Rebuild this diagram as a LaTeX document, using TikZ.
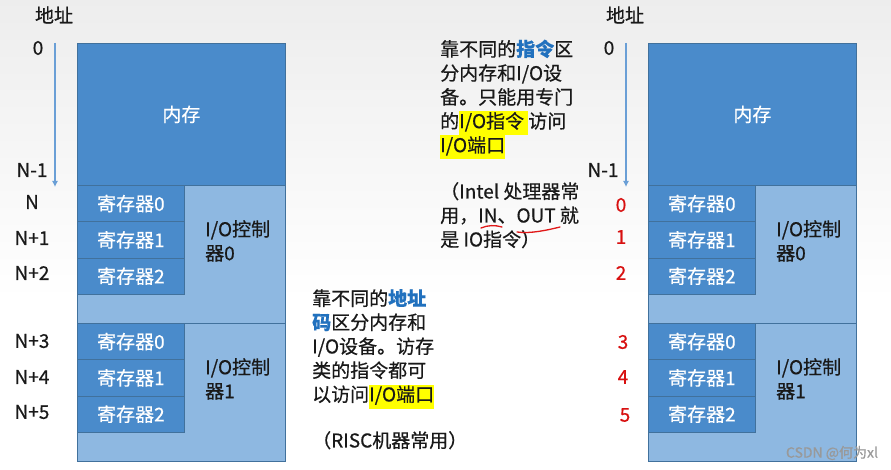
\documentclass[tikz,border=0pt]{standalone}
\usepackage{fontspec}
\setmainfont{Noto Sans CJK SC}[FakeBold=0.5]
\usetikzlibrary{arrows.meta}

\definecolor{memblue}{HTML}{4A8BCB}
\definecolor{ctrlblue}{HTML}{8EB8E1}
\definecolor{boxline}{HTML}{41719C}
\definecolor{arrowblue}{HTML}{6A9FD6}
\definecolor{keyblue}{HTML}{2171BE}
\definecolor{hlyellow}{HTML}{FFFF00}
\definecolor{numred}{HTML}{D81010}
\definecolor{inkred}{HTML}{E01818}

\newcommand{\hilite}[1]{{\setlength{\fboxsep}{0pt}\colorbox{hlyellow}{\strut#1}}}
\newcommand{\keyword}[1]{{\bfseries\color{keyblue}#1}}

\begin{document}
\begin{tikzpicture}[x=1pt, y=-1pt,
    every node/.style={font=\fontsize{19}{24}\selectfont, inner sep=0pt, text=black!90},
    mem/.style={draw=boxline, line width=0.8pt, fill=memblue, text=white, anchor=north west,
        minimum width=208pt, minimum height=142pt},
    ctrl/.style={draw=boxline, line width=0.8pt, fill=ctrlblue, anchor=north west,
        minimum width=208pt, minimum height=138pt},
    reg/.style={draw=boxline, line width=0.8pt, fill=memblue, text=white, anchor=north west,
        minimum width=107pt, minimum height=36.3pt},
    ctrltext/.style={anchor=west, align=left},
    note/.style={anchor=north west, align=left},
    redlab/.style={text=numred},
    addrline/.style={draw=arrowblue, line width=1.1pt, -{Latex[length=6pt, width=6pt]}},
    ink/.style={draw=inkred, line width=1.3pt, line cap=round},
    wmtext/.style={font=\fontsize{14}{16}\selectfont, text=black!40}]
    \shade[top color=black!7, bottom color=white] (0,0) rectangle (891,300);
    \fill[white] (0,300) rectangle (891,470);
    \useasboundingbox (0,0) rectangle (891,470);

    % the two address maps
    \foreach \ox/\s in {0/l, 571/r}{
        \begin{scope}[xshift=\ox pt]
            \node[mem] (mem\s) at (77,43) {内存};
            \foreach \c/\y in {0/185, 1/323}{
                \node[ctrl] (ctrl\c\s) at (77,\y) {};
                \node[ctrltext] (ctrltext\c\s) at (205,\y+56) {I/O控制\\器\c};
                \foreach \r in {0,1,2}
                    \node[reg] (reg\c\r\s) at (77,\y+36.3*\r) {寄存器\r};
            }
            \node (addr\s) at (54,15) {地址};
            \node (zero\s) at (38,48) {0};
            \node (nmone\s) at (32,170) {N-1};
            \coordinate (top\s) at (55,43);
            \coordinate (bot\s) at (55,187);
            \draw[addrline] (top\s) -- (bot\s);
        \end{scope}
    }

    \foreach \lab/\y [count=\k] in {N/202, N+1/238, N+2/273, N+3/341, N+4/377, N+5/412}
        \node (al\k) at (32,\y) {\lab};
    \foreach \x/\y [count=\k from 0] in {621/205, 621/237, 621/273, 623/342, 623/377, 625/415}
        \node[redlab] (ar\k) at (\x,\y) {\k};

    % notes
    \node[note] (iomap) at (440,39.5) {靠不同的\keyword{指令}区\\分内存和I/O设\\备。只能用专门\\的\hilite{I/O指令\ }访问\\\hilite{I/O端口}};
    \node[note] (intel) at (440,182) {（Intel 处理器常\\用，IN、OUT 就\\是 IO指令）};
    \node[note] (memmap) at (312,289) {靠不同的\keyword{地址}\\\keyword{码}区分内存和\\I/O设备。访存\\类的指令都可\\以访问\hilite{I/O端口}};
    \node[note] (risc) at (312,431) {（RISC机器常用）};

    \draw[ink] (481,228) .. controls (488,225) and (495,225) .. (502,227);
    \draw[ink] (517,232) .. controls (530,234) and (548,230) .. (560,227);

    \node[wmtext] (wm) at (832,453) {CSDN @何为xl};
\end{tikzpicture}
\end{document}
